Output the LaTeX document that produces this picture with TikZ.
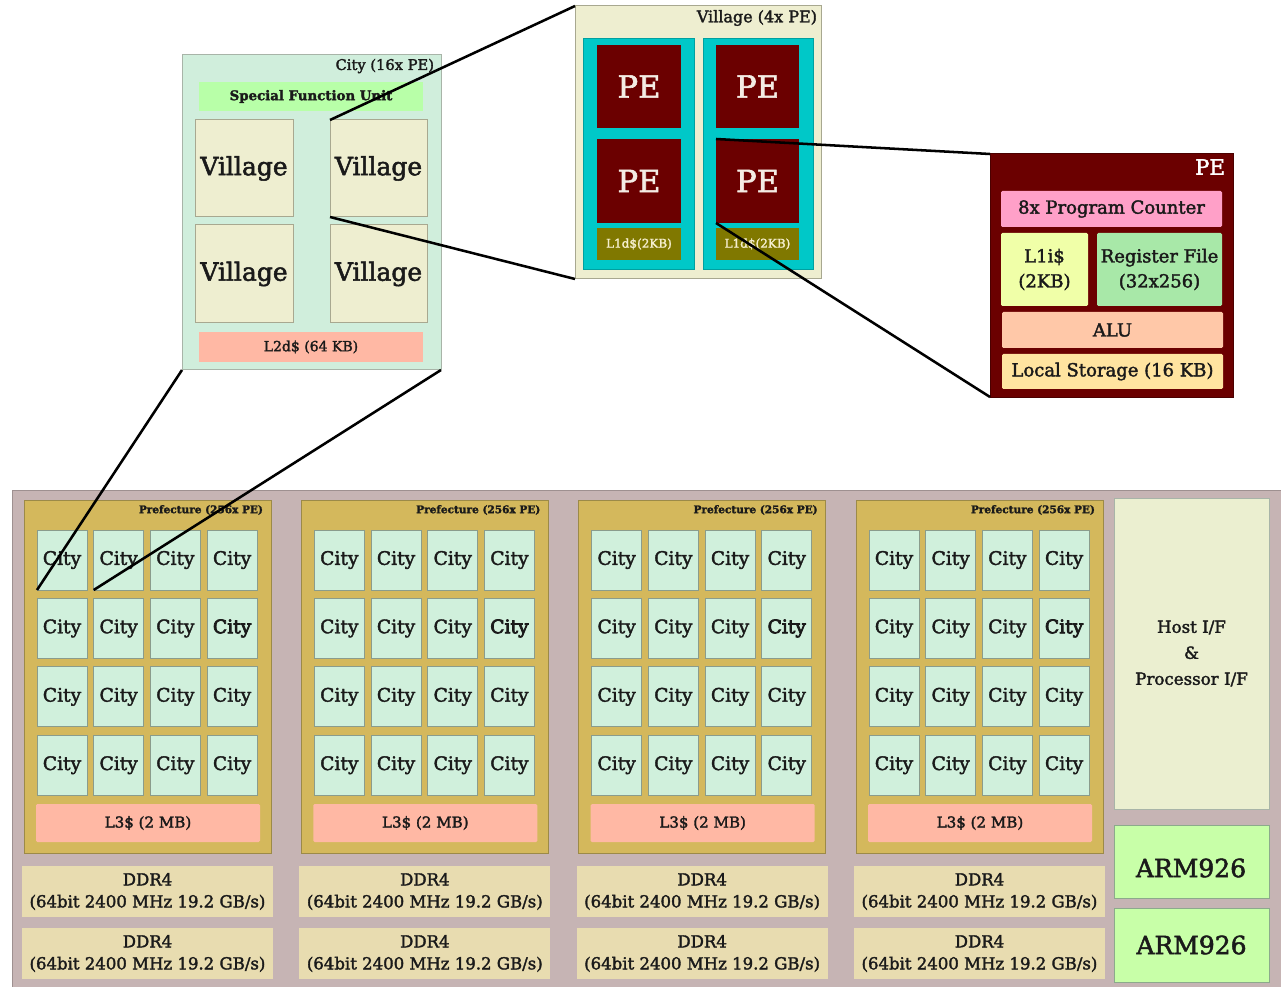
\documentclass[tikz,border=0pt]{standalone}
\usepackage{fontspec}
\setmainfont{DejaVu Serif}[FakeBold=2]
\newfontfamily\heavier{DejaVu Serif}[FakeBold=4]
\definecolor{txt}{HTML}{1A1A1A}
\definecolor{chipc}{HTML}{C6B4B4}
\definecolor{prefc}{HTML}{D4B85C}
\definecolor{prefb}{HTML}{9C8A48}
\definecolor{cityc}{HTML}{D0F0DC}
\definecolor{cityb}{HTML}{8A9C8C}
\definecolor{l3c}{HTML}{FFB8A4}
\definecolor{ddrc}{HTML}{E8DCB0}
\definecolor{hostc}{HTML}{EBEFD0}
\definecolor{armc}{HTML}{C8FFA8}
\definecolor{armb}{HTML}{8CAA8C}
\definecolor{czc}{HTML}{D0EEDC}
\definecolor{greyb}{HTML}{A8B4A8}
\definecolor{sfuc}{HTML}{B8FFA8}
\definecolor{vilc}{HTML}{EEEED0}
\definecolor{vilb}{HTML}{A8A890}
\definecolor{cyanc}{HTML}{00C8C8}
\definecolor{pered}{HTML}{6B0000}
\definecolor{olive}{HTML}{807800}
\definecolor{pcc}{HTML}{FFA0C8}
\definecolor{l1ic}{HTML}{F0FFA8}
\definecolor{rfc}{HTML}{A8E8A8}
\definecolor{aluc}{HTML}{FFC8A8}
\definecolor{lsc}{HTML}{FFE4A0}
\definecolor{petxt}{HTML}{F4ECE4}
\newcommand\R[7]{\node[#6, minimum width={((#4)-(#2))*0.75pt}, minimum height={((#5)-(#3))*0.75pt}] (#1) at ({((#2)+(#4))/2},{((#3)+(#5))/2}) {#7};}
\tikzset{
  every node/.style={inner sep=0pt, outer sep=0pt, text=txt, align=center},
  chipbox/.style={fill=chipc, draw=chipc!80!black, line width=0.75pt},
  prefbox/.style={fill=prefc, draw=prefb, line width=0.75pt},
  citycell/.style={fill=cityc, draw=cityb, line width=0.75pt, font=\fontsize{14}{16}\selectfont},
  l3box/.style={fill=l3c, draw=none, rounded corners=1pt, font=\fontsize{11.3}{13}\selectfont},
  ddrbox/.style={fill=ddrc, draw=none, font=\fontsize{12.4}{16.5}\selectfont},
  hostbox/.style={fill=hostc, draw=greyb, line width=0.75pt, font=\fontsize{12.5}{19.5}\selectfont},
  armbox/.style={fill=armc, draw=armb, line width=0.75pt, font=\fontsize{18.75}{20}\selectfont},
  czbox/.style={fill=czc, draw=greyb, line width=0.75pt},
  sfubox/.style={fill=sfuc, draw=none, font=\bfseries\fontsize{10}{12}\selectfont},
  vilbox/.style={fill=vilc, draw=vilb, line width=0.75pt, font=\fontsize{18.75}{20}\selectfont},
  l2box/.style={fill=l3c, draw=none, font=\fontsize{10.5}{12}\selectfont},
  vzbox/.style={fill=vilc, draw=vilb, line width=0.75pt},
  cyanbox/.style={fill=cyanc, draw=cyanc!80!black, line width=0.5pt},
  pebox/.style={fill=pered, draw=none, text=petxt, font=\fontsize{23}{25}\selectfont},
  l1dbox/.style={fill=olive, draw=none, text=petxt!90!yellow, font=\fontsize{9}{10}\selectfont},
  pezbox/.style={fill=pered, draw=pered!70!black, line width=0.75pt},
  inbox/.style={draw=none, rounded corners=1pt, font=\fontsize{13.5}{18.75}\selectfont},
  title/.style={anchor=east},
  zoomline/.style={draw=black, line width=1.9pt}
}
\begin{document}
\begin{tikzpicture}[x=0.75pt,y=-0.75pt]
\useasboundingbox (0,0) rectangle (1281,987);
% chip
\R{chip}{12}{490}{1290}{996}{chipbox}{}
\foreach \p in {0,1,2,3}{
  \pgfmathsetmacro\ox{24+277.33*\p}
  \R{pref-\p}{\ox}{500}{\ox+247}{853}{prefbox}{}
  \node[title, font=\bfseries\fontsize{7.9}{9}\selectfont] (pt-\p) at (\ox+239,510) {Prefecture (256x PE)};
  \foreach \r in {0,1,2,3}{
    \foreach \c in {0,1,2,3}{
      \pgfmathsetmacro\cx{\ox+13+56.7*\c}
      \pgfmathsetmacro\cy{530+68.4*\r}
      \ifnum\r=1 \ifnum\c=3
        \R{c-\p-\r-\c}{\cx}{\cy}{\cx+50}{\cy+60}{citycell}{\heavier City}
      \else
        \R{c-\p-\r-\c}{\cx}{\cy}{\cx+50}{\cy+60}{citycell}{City}
      \fi\else
        \R{c-\p-\r-\c}{\cx}{\cy}{\cx+50}{\cy+60}{citycell}{City}
      \fi
    }
  }
  \R{l3-\p}{\ox+12}{804}{\ox+236}{842}{l3box}{L3\$ (2 MB)}
  \R{ddra-\p}{\ox-2}{866}{\ox+249}{917}{ddrbox}{DDR4\\(64bit 2400 MHz 19.2 GB/s)}
  \R{ddrb-\p}{\ox-2}{928}{\ox+249}{979}{ddrbox}{DDR4\\(64bit 2400 MHz 19.2 GB/s)}
}
\R{host}{1114}{498}{1269}{809}{hostbox}{Host I/F\\\&\\Processor I/F}
\R{arm1}{1114}{825}{1269}{898}{armbox}{}
\node[font=\fontsize{18.75}{20}\selectfont] (arm1t) at (1191,868) {ARM926};
\R{arm2}{1114}{908}{1269}{982}{armbox}{ARM926}
% city zoom
\R{cz}{182}{55}{441}{370}{czbox}{}
\node[title, font=\fontsize{11}{12}\selectfont] (czt) at (434,66) {City (16x PE)};
\R{sfu}{199}{82}{423}{111}{sfubox}{Special Function Unit}
\R{v-1}{195}{120}{293}{217}{vilbox}{Village}
\R{v-2}{330}{120}{427}{217}{vilbox}{Village}
\R{v-3}{195}{225}{293}{323}{vilbox}{Village}
\R{v-4}{330}{225}{427}{323}{vilbox}{Village}
\R{l2}{199}{332}{423}{362}{l2box}{L2d\$ (64 KB)}
% village zoom
\R{vz}{575}{6}{821}{279}{vzbox}{}
\node[title, font=\fontsize{12}{13}\selectfont] (vzt) at (817,18) {Village (4x PE)};
\R{cy-1}{583}{38}{694}{269}{cyanbox}{}
\R{cy-2}{703}{38}{813}{269}{cyanbox}{}
\R{pe-1}{597}{45}{681}{128}{pebox}{PE}
\R{pe-2}{716}{45}{799}{128}{pebox}{PE}
\R{pe-3}{597}{139}{681}{223}{pebox}{PE}
\R{pe-4}{716}{139}{799}{223}{pebox}{PE}
\R{l1d-1}{597}{228}{681}{260}{l1dbox}{L1d\$(2KB)}
\R{l1d-2}{716}{228}{799}{260}{l1dbox}{L1d\$(2KB)}
% PE zoom
\R{pez}{990}{154}{1233}{397}{pezbox}{}
\node[title, text=white, font=\fontsize{16}{17}\selectfont] (pezt) at (1225,167) {PE};
\R{pc}{1001}{191}{1222}{227}{inbox, fill=pcc}{8x Program Counter}
\R{l1i}{1001}{233}{1088}{306}{inbox, fill=l1ic}{L1i\$\\(2KB)}
\R{rf}{1097}{233}{1222}{306}{inbox, fill=rfc}{Register File\\(32x256)}
\R{alu}{1002}{312}{1223}{348}{inbox, fill=aluc}{ALU}
\R{ls}{1002}{354}{1223}{389}{inbox, fill=lsc}{Local Storage (16 KB)}
% zoom lines
\draw[zoomline] (cz.south west) -- (c-0-0-0.south west);
\draw[zoomline] (cz.south east) -- (c-0-0-1.south west);
\draw[zoomline] (v-2.north west) -- (vz.north west);
\draw[zoomline] (v-2.south west) -- (vz.south west);
\draw[zoomline] (pe-4.north west) -- (pez.north west);
\draw[zoomline] (pe-4.south west) -- (pez.south west);
\end{tikzpicture}
\end{document}
